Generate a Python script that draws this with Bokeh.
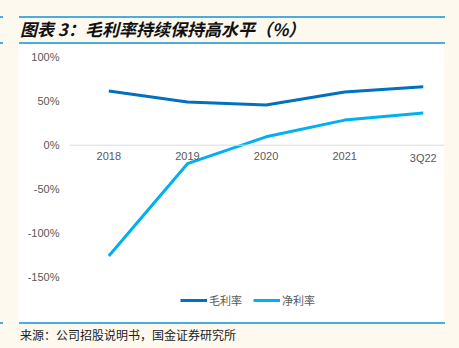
from bokeh.plotting import figure
from bokeh.layouts import column, row
from bokeh.models import (Range1d, FixedTicker, Legend, LegendItem, Div, Spacer, Span,
                          PrintfTickFormatter, ColumnDataSource)
from bokeh.core.properties import value
from bokeh.embed import file_html
from bokeh.resources import INLINE

categories = ["2018", "2019", "2020", "2021", "3Q22"]
gross_margin = [61.5, 49.0, 45.8, 60.5, 66.5]
net_margin = [-126.0, -21.0, 9.5, 28.5, 36.5]
y_ticks = [-150, -100, -50, 0, 50, 100]
title_text = "图表 3：毛利率持续保持高水平（%）"
source_text = "来源：公司招股说明书，国金证券研究所"
series_names = ["毛利率", "净利率"]

CREAM = "#FDF9EF"
DARK = "#0070C0"
LIGHT = "#00B0F0"
RULE = "#4BACE0"
GRAY = "#595959"
CJK = "Noto Sans CJK SC"

xs = list(range(len(categories)))
src = ColumnDataSource(dict(x=xs, g=gross_margin, n=net_margin,
                            zero=[0] * len(categories), cat=categories))

p = figure(width=426, height=278, output_backend="svg", toolbar_location=None,
           x_range=Range1d(-0.5, 4.27), y_range=Range1d(-201.5, 100.8),
           min_border_left=51, min_border_right=0, min_border_top=12, min_border_bottom=0)
p.border_fill_color = "white"
p.background_fill_color = "white"
p.outline_line_color = None
p.xgrid.visible = False
p.ygrid.visible = False
p.xaxis.visible = False

# zero line
p.add_layout(Span(location=0, dimension="width", line_color="#D9D9D9", line_width=1))

r1 = p.line("x", "g", source=src, line_color=DARK, line_width=3)
r2 = p.line("x", "n", source=src, line_color=LIGHT, line_width=3)

# category labels under the zero line
p.text("x", "zero", text="cat", source=src, y_offset=7, text_align="center",
       text_baseline="top", text_font=value("Liberation Sans"), text_font_size="11px",
       text_color=GRAY)

# y axis
p.yaxis.ticker = FixedTicker(ticks=y_ticks)
p.yaxis.formatter = PrintfTickFormatter(format="%d%%")
p.yaxis.axis_line_color = None
p.yaxis.major_tick_line_color = None
p.yaxis.minor_tick_line_color = None
p.yaxis.major_tick_out = 0
p.yaxis.major_tick_in = 0
p.yaxis.major_label_standoff = 10
p.yaxis.major_label_text_font = "Liberation Sans"
p.yaxis.major_label_text_font_size = "11px"
p.yaxis.major_label_text_color = GRAY

legend = Legend(items=[LegendItem(label=series_names[0], renderers=[r1]),
                       LegendItem(label=series_names[1], renderers=[r2])],
                orientation="horizontal", location=(111, 14),
                glyph_width=27, glyph_height=12, label_standoff=2, spacing=11,
                padding=0, margin=0, border_line_color=None, background_fill_alpha=0,
                label_text_font=CJK, label_text_font_size="11px", label_text_color=GRAY)
p.add_layout(legend, "center")

header_html = f"""
<div style="position:relative;width:459px;height:44px;overflow:hidden;">
  <div style="position:absolute;left:0px;top:16px;width:3px;height:2px;background:{RULE};"></div>
  <div style="position:absolute;left:19px;top:16px;width:426px;height:2px;background:{RULE};"></div>
  <div style="position:absolute;left:20px;top:18px;height:22px;line-height:22px;white-space:nowrap;
              font-family:'{CJK}';font-size:17px;font-style:italic;font-weight:bold;color:#111111;">{title_text}</div>
  <div style="position:absolute;left:0px;top:42px;width:3px;height:2px;background:{RULE};"></div>
  <div style="position:absolute;left:19px;top:42px;width:426px;height:2px;background:{RULE};"></div>
</div>"""
header = Div(text=header_html, width=459, height=44, margin=0)

footer_html = f"""
<div style="position:relative;width:459px;height:26px;overflow:hidden;">
  <div style="position:absolute;left:0px;top:0px;width:3px;height:2px;background:{RULE};"></div>
  <div style="position:absolute;left:19px;top:0px;width:426px;height:2px;background:{RULE};"></div>
  <div style="position:absolute;left:20px;top:3px;height:20px;line-height:20px;white-space:nowrap;
              font-family:'{CJK}';font-size:12px;color:#222222;">{source_text}</div>
</div>"""
footer = Div(text=footer_html, width=459, height=26, margin=0)

middle = row(Spacer(width=18, height=278), p, width=444, height=278, spacing=0)

layout = column(header, middle, footer, width=459, height=348, spacing=0,
                styles={"background-color": CREAM})

open("out.html", "w").write(file_html(layout, INLINE))
